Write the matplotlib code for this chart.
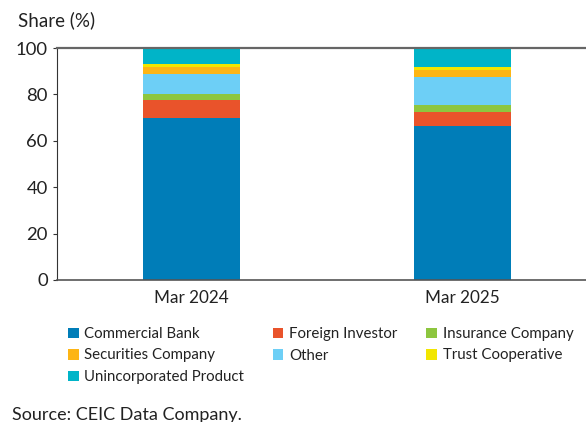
import matplotlib.pyplot as plt
from matplotlib.patches import Patch

# data (shares in %)
periods = ['Mar 2024', 'Mar 2025']
series = ['Commercial Bank', 'Foreign Investor', 'Insurance Company', 'Other',
          'Securities Company', 'Trust Cooperative', 'Unincorporated Product']
commercial_bank = [69.8, 66.4]
foreign_investor = [7.8, 6.0]
insurance_company = [2.6, 3.0]
other = [8.6, 12.1]
securities_company = [3.0, 3.0]
trust_cooperative = [1.3, 1.3]
unincorporated_product = [6.9, 8.2]

valores = [commercial_bank, foreign_investor, insurance_company, other,
           securities_company, trust_cooperative, unincorporated_product]
cores = ['#007DB8', '#E9532B', '#8DC63F', '#6DCFF6', '#FDB515', '#F2E600', '#00B4C8']

# ordem da legenda (matplotlib preenche por coluna)
ordem_legenda = ['Commercial Bank', 'Securities Company', 'Unincorporated Product',
                 'Foreign Investor', 'Other',
                 'Insurance Company', 'Trust Cooperative']

plt.rcParams['font.family'] = ['Lato', 'DejaVu Sans']

fig = plt.figure(figsize=(5.86, 4.22), dpi=100)
ax = fig.add_axes([0.097, 0.3365, 0.903, 0.5495])

x = range(len(periods))
base = [0, 0]
for nome, vals, cor in zip(series, valores, cores):
    ax.bar(x, vals, width=0.358, bottom=base, color=cor, label=nome)
    base = [b + v for b, v in zip(base, vals)]

ax.set_xlim(-0.496, 1.456)
ax.set_ylim(0, 100)
ax.set_yticks([0, 20, 40, 60, 80, 100])
ax.set_xticks(list(x))
ax.set_xticklabels(periods)
ax.tick_params(axis='y', labelsize=13.3, length=3, color='#333333', labelcolor='#222222')
ax.tick_params(axis='x', labelsize=12.3, length=0, pad=7, labelcolor='#222222')

ax.spines['right'].set_visible(False)
ax.spines['left'].set_color('#333333')
ax.spines['top'].set_color('#666666')
ax.spines['top'].set_linewidth(1.6)
ax.spines['bottom'].set_color('#555555')
ax.spines['bottom'].set_linewidth(1.2)

fig.text(18 / 586, 1 - 20 / 422, 'Share (%)', fontsize=13.5, color='#222222', va='center')

mapa = dict(zip(series, cores))
handles = [Patch(facecolor=mapa[n], edgecolor='none') for n in ordem_legenda]
fig.legend(handles, ordem_legenda, ncol=3, frameon=False, fontsize=10.8,
           loc='upper left', bbox_to_anchor=(68 / 586, 1 - 327 / 422),
           handlelength=0.7, handleheight=0.7, handletextpad=0.4,
           columnspacing=1.9, labelspacing=0.5, borderaxespad=0, borderpad=0,
           labelcolor='#222222')

fig.text(12 / 586, 1 - 415 / 422, 'Source: CEIC Data Company.', fontsize=13,
         color='#222222', va='center')

fig.savefig('out.png', dpi=100)
